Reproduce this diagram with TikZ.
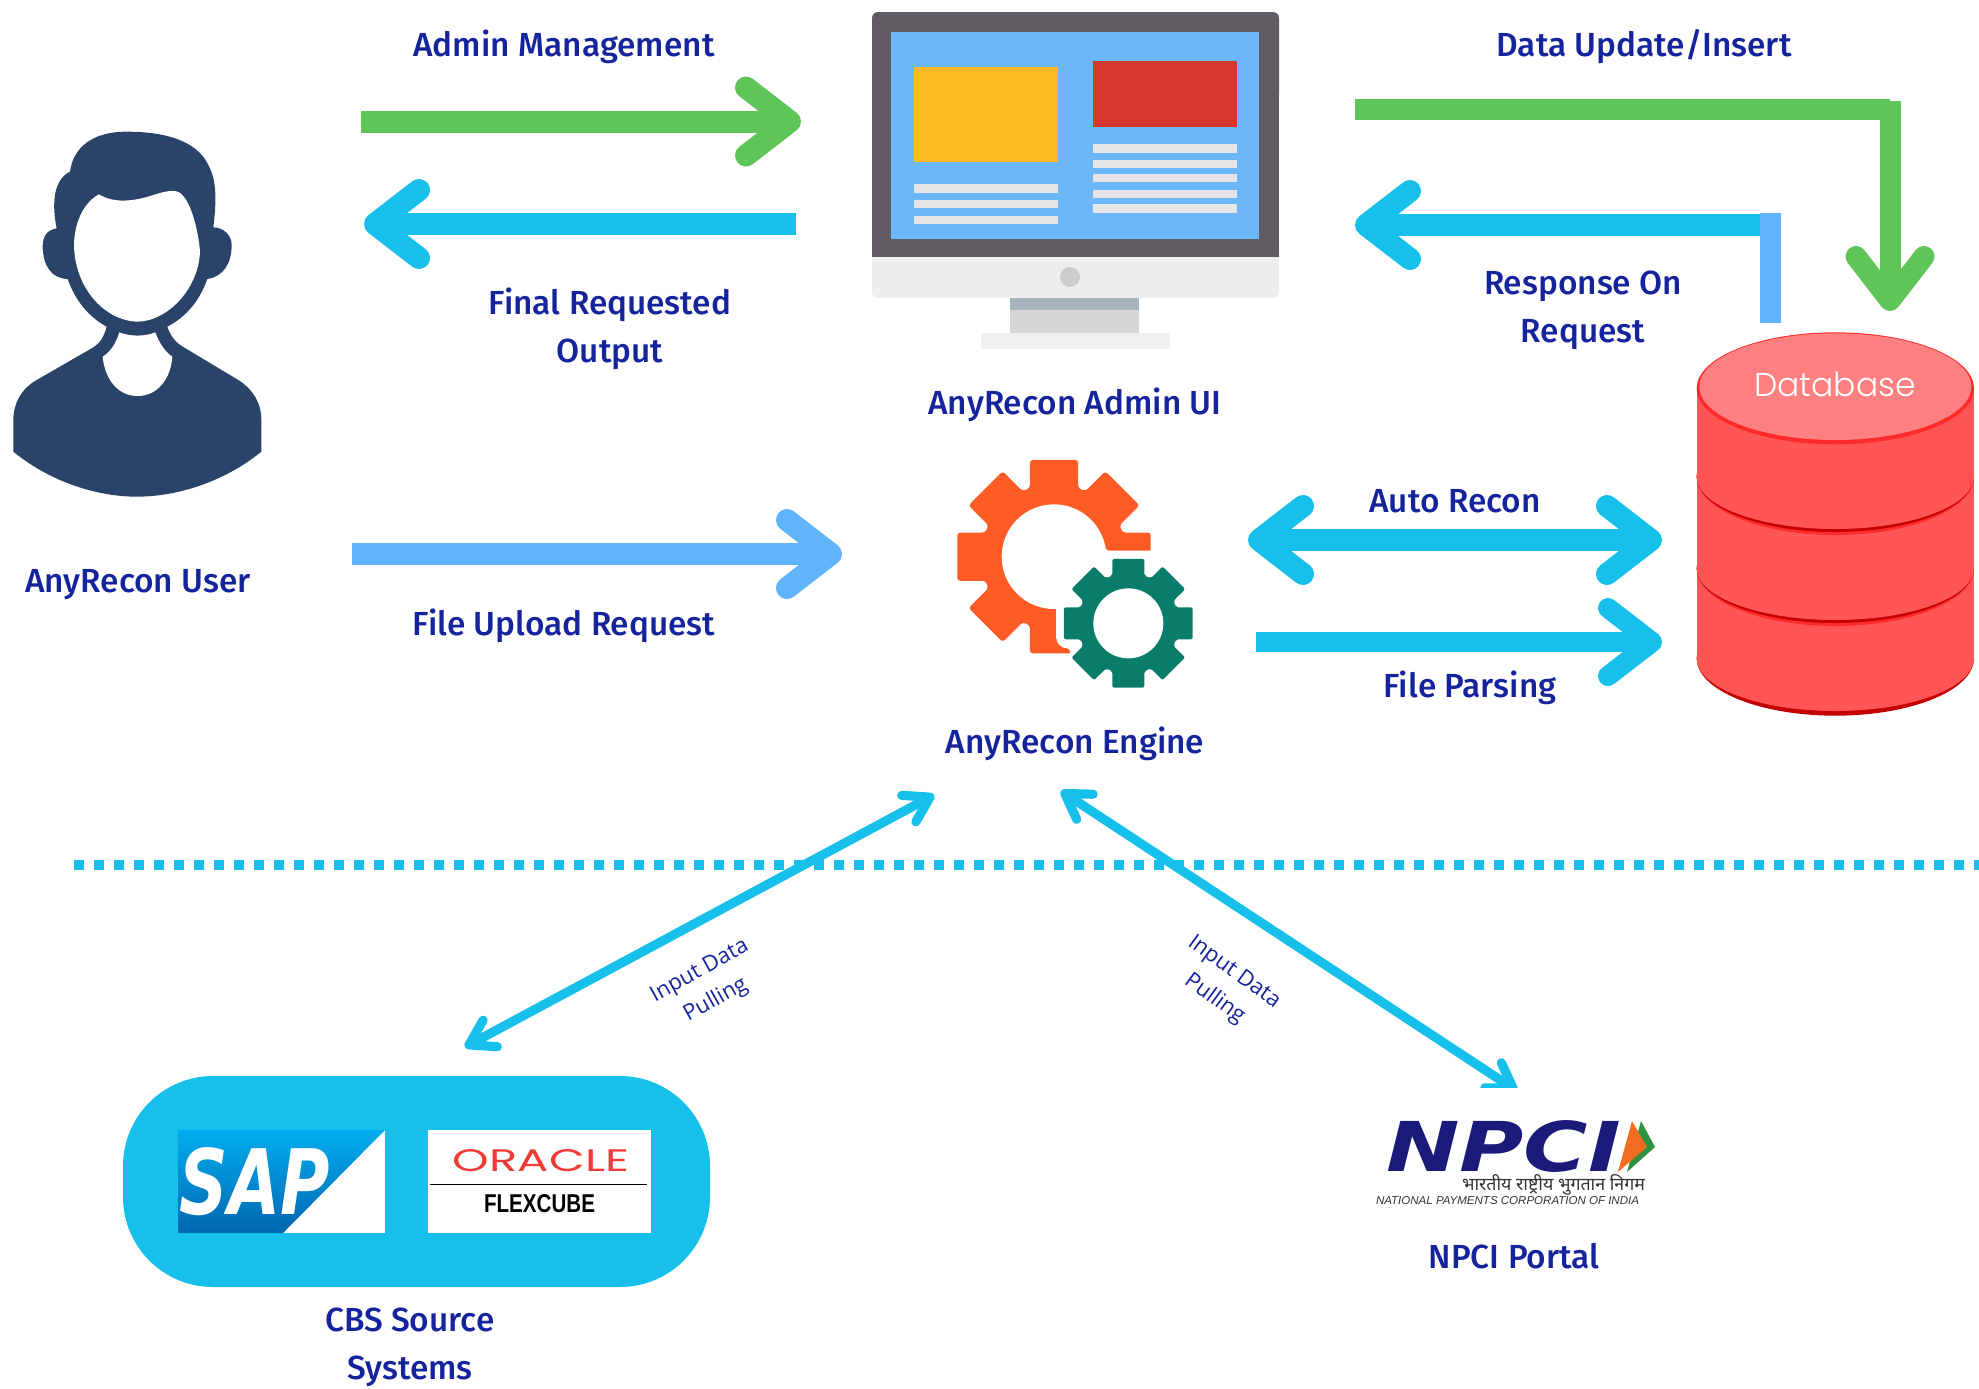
\documentclass[tikz,border=0pt]{standalone}
\usepackage{fontspec}
\usepackage{graphicx}
\usetikzlibrary{arrows.meta}
\setmainfont{Fira Sans}[UprightFont=* Medium]
\newfontfamily\smallfont{Open Sans}
\newfontfamily\logofont{Liberation Sans}
\newfontfamily\heavyfont{DejaVu Sans}
\newfontfamily\widefont{Poppins}
\newfontfamily\dbfont{Poppins}[UprightFont=* Light]
\newfontfamily\devafont[Script=Devanagari]{Noto Sans}
\definecolor{labelblue}{HTML}{15239C}
\definecolor{greenline}{HTML}{5FC558}
\definecolor{cyanline}{HTML}{16C0EB}
\definecolor{skyline}{HTML}{5FB4FB}
\definecolor{navyman}{HTML}{2A4369}
\definecolor{gearorange}{HTML}{FF5B24}
\definecolor{geargreen}{HTML}{0A7C6C}
\definecolor{dbbody}{HTML}{FF5555}
\definecolor{dbtop}{HTML}{FF8080}
\definecolor{dbrim}{HTML}{FF2A2A}
\definecolor{dbdark}{HTML}{C40000}
\definecolor{monframe}{HTML}{615C63}
\definecolor{monscreen}{HTML}{6BB7F8}
\definecolor{monyellow}{HTML}{FDBB21}
\definecolor{monred}{HTML}{D4372C}
\tikzset{
  lbl/.style={text=labelblue,font=\fontsize{16.7}{24}\selectfont,align=center,inner sep=0pt},
  smalllbl/.style={text=labelblue,font=\smallfont\fontsize{11}{16.5}\selectfont,align=center,inner sep=0pt},
  fit/.style={inner sep=0pt,outer sep=0pt},
  bigtip/.tip={Straight Barb[length=22pt,width=34pt,round]},
  smalltip/.tip={Straight Barb[length=12pt,width=15pt,round]},
  fat/.style={line width=11pt},
  thin line/.style={line width=4.6pt,color=cyanline},
}
\begin{document}
\begin{tikzpicture}[x=0.5pt,y=-0.5pt]
\useasboundingbox (0,0) rectangle (1979,1388);

% ---- connector ends
\coordinate (adminS) at (361,121.5);  \coordinate (adminE) at (801,121.5);
\coordinate (finalS) at (796,224);    \coordinate (finalE) at (364,224);
\coordinate (fileS)  at (352,554);    \coordinate (fileE)  at (842,554);
\coordinate (dataS)  at (1355,109.5); \coordinate (dataC)  at (1890,109.5);
\coordinate (dataV)  at (1890,101);   \coordinate (dataE)  at (1890,311);
\coordinate (respS)  at (1762,225);   \coordinate (respE)  at (1355,225);
\coordinate (stubS)  at (1770.5,213); \coordinate (stubE)  at (1770.5,323);
\coordinate (autoS)  at (1248,540);   \coordinate (autoE)  at (1662,540);
\coordinate (parseS) at (1256,642);   \coordinate (parseE) at (1662,642);
\coordinate (dotS)   at (74.3,864.5); \coordinate (dotE)   at (1979,864.5);
\coordinate (cbsA)   at (465,1047);   \coordinate (cbsB)   at (934,795);
\coordinate (npA)    at (1061,791);   \coordinate (npB)    at (1517,1091);

% ---- person
\begin{scope}[shift={(0,100)},scale=1/3]
\fill[navyman] (40,1055) .. controls (150,1145) and (290,1190) .. (410,1190)
  .. controls (540,1190) and (680,1140) .. (784,1055) -- (784,960)
  .. controls (784,905) and (755,865) .. (715,840) -- (545,738)
  .. controls (525,725) and (510,705) .. (502,680)
  .. controls (560,650) and (600,600) .. (622,537)
  .. controls (670,530) and (695,490) .. (695,435)
  .. controls (695,405) and (670,382) .. (640,382)
  .. controls (650,300) and (650,240) .. (625,195)
  .. controls (590,120) and (490,95) .. (380,95)
  .. controls (280,95) and (220,140) .. (210,215)
  .. controls (160,240) and (155,310) .. (170,385)
  .. controls (140,390) and (128,410) .. (128,440)
  .. controls (130,500) and (155,535) .. (203,537)
  .. controls (225,600) and (265,650) .. (320,680)
  .. controls (312,710) and (300,730) .. (280,742)
  -- (110,840) .. controls (65,865) and (40,910) .. (40,960) -- cycle;
\fill[white] (297,283) .. controls (340,310) and (400,305) .. (460,285)
  .. controls (490,275) and (515,270) .. (530,274)
  .. controls (570,285) and (595,390) .. (600,455)
  .. controls (595,570) and (500,665) .. (410,665)
  .. controls (310,660) and (222,560) .. (222,430)
  .. controls (225,360) and (255,305) .. (297,283) -- cycle;
\fill[white] (358,697) .. controls (390,710) and (435,710) .. (466,697)
  .. controls (478,730) and (495,755) .. (517,770)
  .. controls (512,840) and (470,888) .. (413,888)
  .. controls (355,888) and (315,840) .. (308,770)
  .. controls (332,755) and (348,730) .. (358,697) -- cycle;
\end{scope}

% ---- monitor
\fill[white!93.5!black,rounded corners=3pt] (872,240) rectangle (1279,298);
\fill[monframe,rounded corners=3pt] (872,12) rectangle (1279,100);
\fill[monframe] (872,50) rectangle (1279,257);
\fill[monscreen] (891,32) rectangle (1259,239);
\fill[monyellow] (914,67) rectangle (1058,162);
\fill[monred] (1093,61) rectangle (1237,127);
\foreach \ya/\yb in {184/193,200/208,216/224}
  \fill[white!90!black] (914,\ya) rectangle (1058,\yb);
\foreach \ya/\yb in {144/153,160/168,174/182,190/198,204/213}
  \fill[white!90!black] (1093,\ya) rectangle (1237,\yb);
\fill[white!80!black] (1070,277) circle (10);
\fill[fill={rgb,255:red,166;green,180;blue,188}] (1010,298) rectangle (1139,310);
\fill[white!84!black] (1010,310) rectangle (1139,333);
\fill[white!94!black] (981,333) rectangle (1170,349);

% ---- gears
\begin{scope}[shift={(930,440)},scale=1/3]
\begin{scope}[shift={(372,350)}]
\fill[gearorange,rounded corners=1.5pt] (-19.4:218) -- (-14:299) -- (14:299) -- (19.4:218)
  \foreach \a in {45,90,...,315} { -- (\a-19.4:218) -- (\a-14:299) -- (\a+14:299) -- (\a+19.4:218) } -- cycle;
\end{scope}
\fill[white] (372,350) circle (157);
\fill[white,rounded corners=1.5pt] (378,400) -- (378,585) .. controls (380,612) and (395,625) .. (420,625)
  -- (420,800) -- (800,800) -- (800,332) -- (545,332) .. controls (535,332) and (528,328) .. (526,318) -- (450,300) -- cycle;
\begin{scope}[shift={(595,550)}]
\fill[geargreen,rounded corners=1pt] (-18.5:151) -- (-14:199) -- (14:199) -- (18.5:151)
  \foreach \a in {45,90,...,315} { -- (\a-18.5:151) -- (\a-14:199) -- (\a+14:199) -- (\a+18.5:151) } -- cycle;
\fill[white] (0,0) circle (105);
\end{scope}
\end{scope}

% ---- database
\begin{scope}[shift={(1680,320)},scale=1/3]
\fill[dbdark] (466,1015) ellipse [x radius=416,y radius=172];
\fill[dbbody] (466,1015) ellipse [x radius=416,y radius=158];
\fill[dbbody] (50,745) rectangle (883,1015);
\fill[dbrim] (466,745) ellipse [x radius=416,y radius=173];
\fill[dbdark] (466,745) ellipse [x radius=416,y radius=164];
\fill[dbbody] (466,745) ellipse [x radius=416,y radius=155];
\fill[dbbody] (50,470) rectangle (883,745);
\fill[dbrim] (466,470) ellipse [x radius=416,y radius=175];
\fill[dbdark] (466,470) ellipse [x radius=416,y radius=166];
\fill[dbbody] (466,470) ellipse [x radius=416,y radius=157];
\fill[dbbody] (50,205) rectangle (883,470);
\fill[dbrim] (466,205) ellipse [x radius=416,y radius=168];
\fill[dbtop] (466,200) ellipse [x radius=408,y radius=160];
\end{scope}
\node[fit,text=white,font=\dbfont\fontsize{16.5}{20}\selectfont] (dbname) at (1835,384) {Database};

% ---- connectors
\draw[fat,greenline,-{bigtip}] (adminS) -- (adminE);
\draw[fat,cyanline,-{bigtip}] (finalS) -- (finalE);
\draw[fat,skyline,-{bigtip}] (fileS) -- (fileE);
\draw[line width=10.5pt,greenline] (dataS) -- (dataC);
\draw[line width=10.5pt,greenline,-{bigtip}] (dataV) -- (dataE);
\draw[fat,cyanline,-{bigtip}] (respS) -- (respE);
\draw[line width=10.5pt,skyline] (stubS) -- (stubE);
\draw[fat,cyanline,{bigtip}-{bigtip}] (autoS) -- (autoE);
\draw[line width=10pt,cyanline,-{bigtip}] (parseS) -- (parseE);
\draw[line width=5pt,cyanline,dash pattern=on 5pt off 5pt] (dotS) -- (dotE);
\draw[thin line,{smalltip}-{smalltip}] (cbsA) -- (cbsB);
\draw[thin line,{smalltip}-{smalltip}] (npA) -- (npB);

% ---- CBS box
\fill[cyanline,rounded corners=45pt] (123,1076) rectangle (710,1287);
\fill[white] (178,1130) rectangle (385,1233);
\shade[top color={rgb,255:red,0;green,174;blue,239},bottom color={rgb,255:red,0;green,102;blue,176}]
  (178,1130) -- (385,1130) -- (283,1233) -- (178,1233) -- cycle;
\node[fit,text=white] (sap) at (255,1181.5) {\resizebox{75pt}{33.5pt}{\heavyfont\bfseries\itshape SAP}};
\fill[white] (428,1130) rectangle (651,1233);
\node[fit,text={rgb,255:red,240;green,58;blue,54}] (oracle) at (541,1161) {\resizebox{88pt}{11pt}{\widefont ORACLE}};
\fill[black] (430,1183.5) rectangle (647,1184.5);
\node[fit,text=black] (flexcube) at (539.5,1204) {\resizebox{55.5pt}{9pt}{\logofont\bfseries FLEXCUBE}};

% ---- NPCI logo
\fill[white] (1350,1088) rectangle (1670,1230);
\node[fit,text={rgb,255:red,26;green,26;blue,122}] (npci) at (1503.5,1146.5) {\resizebox{117.5pt}{25.5pt}{\heavyfont\bfseries\itshape NPCI}};
\fill[fill={rgb,255:red,46;green,146;blue,69}] (1641,1121) -- (1655,1147) -- (1627,1172) -- cycle;
\fill[fill={rgb,255:red,242;green,108;blue,31}] (1632,1121) -- (1647,1147) -- (1618,1172) -- cycle;
\node[fit,text=black!80] (hindi) at (1553.5,1184.5) {\resizebox{91.5pt}{!}{\devafont भारतीय राष्ट्रीय भुगतान निगम}};
\node[fit,text=black!80] (natl) at (1507.5,1201) {\resizebox{131.5pt}{4pt}{\logofont\itshape NATIONAL PAYMENTS CORPORATION OF INDIA}};

% ---- labels
\node[lbl] (l1) at (564,47) {Admin Management};
\node[lbl] (l2) at (610,329) {Final Requested\\Output};
\node[lbl] (l3) at (138,585) {AnyRecon User};
\node[lbl] (l4) at (564,626) {File Upload Request};
\node[lbl] (l5) at (1075,405) {AnyRecon Admin UI};
\node[lbl] (l6) at (1644,47) {Data Update/Insert};
\node[lbl] (l7) at (1583,310) {Response On\\Request};
\node[lbl] (l8) at (1455,501) {Auto Recon};
\node[lbl] (l9) at (1470,688) {File Parsing};
\node[lbl] (l10) at (1075,744) {AnyRecon Engine};
\node[lbl] (l11) at (410,1347) {CBS Source\\Systems};
\node[lbl] (l12) at (1514,1256) {NPCI Portal};
\node[smalllbl,rotate=29] (l13) at (708,986) {Input Data\\Pulling};
\node[smalllbl,rotate=-36] (l14) at (1224,986) {Input Data\\Pulling};
\end{tikzpicture}
\end{document}
